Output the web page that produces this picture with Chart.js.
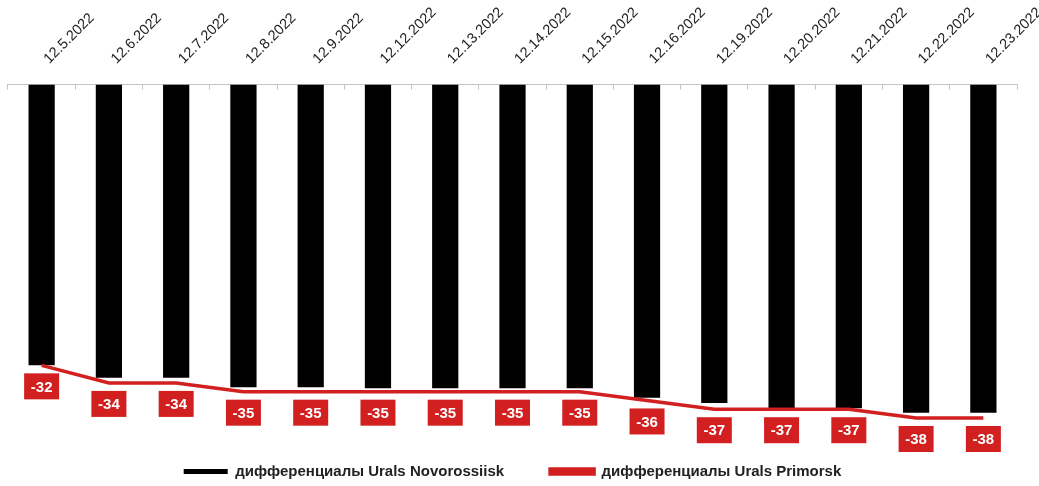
<!DOCTYPE html>
<html>
<head>
<meta charset="utf-8">
<title>Urals differentials</title>
<script src="https://cdn.jsdelivr.net/npm/chart.js@4.4.1/dist/chart.umd.min.js"></script>
<style>
  html, body { margin: 0; padding: 0; background: #fff; }
  #wrap { width: 1039px; height: 486px; position: relative; }
</style>
</head>
<body>
<div id="wrap"><canvas id="chart"></canvas></div>
<script>
// Trading dates (month.day.year)
const dates = ['12.5.2022', '12.6.2022', '12.7.2022', '12.8.2022', '12.9.2022',
  '12.12.2022', '12.13.2022', '12.14.2022', '12.15.2022', '12.16.2022',
  '12.19.2022', '12.20.2022', '12.21.2022', '12.22.2022', '12.23.2022'];

// Discount to Brent, USD/bbl
const novorossiisk = [-32, -33.4, -33.4, -34.5, -34.5, -34.6, -34.6, -34.6, -34.6,
  -35.7, -36.3, -36.9, -36.9, -37.4, -37.4];
const primorsk = [-32, -34, -34, -35, -35, -35, -35, -35, -35, -36, -37, -37, -37, -38, -38];

const seriesNames = ['дифференциалы Urals Novorossiisk', 'дифференциалы Urals Primorsk'];

const FONT = "'Liberation Sans', Arial, sans-serif";
const RED = '#d21f1f';

// Red value boxes under each point of the Primorsk line
const valueBoxes = {
  id: 'valueBoxes',
  afterDatasetsDraw(chart) {
    const ctx = chart.ctx;
    const meta = chart.getDatasetMeta(1);
    const values = chart.data.datasets[1].data;
    ctx.save();
    ctx.font = "bold 15px " + FONT;
    ctx.textAlign = 'center';
    ctx.textBaseline = 'middle';
    meta.data.forEach((pt, i) => {
      const w = 35, h = 26;
      const cx = pt.x, cy = pt.y + 21;
      ctx.fillStyle = RED;
      ctx.fillRect(cx - w / 2, cy - h / 2, w, h);
      ctx.fillStyle = '#fff';
      ctx.fillText(String(values[i]), cx, cy + 1);
    });
    ctx.restore();
  }
};

new Chart(document.getElementById('chart'), {
  type: 'bar',
  data: {
    labels: dates,
    datasets: [
      {
        type: 'bar',
        label: seriesNames[0],
        data: novorossiisk,
        backgroundColor: '#000',
        borderWidth: 0,
        barPercentage: 0.78,
        categoryPercentage: 0.5,
        order: 1
      },
      {
        type: 'line',
        label: seriesNames[1],
        data: primorsk,
        borderColor: RED,
        backgroundColor: RED,
        borderWidth: 3.5,
        pointRadius: 0,
        tension: 0,
        fill: false,
        clip: false,
        order: 0
      }
    ]
  },
  options: {
    responsive: true,
    maintainAspectRatio: false,
    animation: false,
    layout: { padding: { left: 8, right: 22, top: -18, bottom: -3 } },
    plugins: {
      tooltip: { enabled: false },
      legend: {
        position: 'bottom',
        labels: {
          font: { family: FONT, size: 15, weight: 'bold' },
          color: '#222',
          boxWidth: 44,
          boxHeight: 5,
          padding: 46,
          sort: (a, b) => a.datasetIndex - b.datasetIndex
        }
      }
    },
    scales: {
      x: {
        position: 'top',
        // rotated date labels may overhang the right edge of the plot
        afterFit: (scale) => { scale.paddingRight = 22; },
        grid: {
          drawOnChartArea: false,
          drawTicks: true,
          tickLength: -5,
          color: '#c4c4c4'
        },
        border: { color: '#c4c4c4', width: 1 },
        ticks: {
          minRotation: 45,
          maxRotation: 45,
          padding: 22,
          labelOffset: 17,
          color: '#222',
          font: { family: FONT, size: 14.5 }
        }
      },
      y: {
        display: false,
        min: -38,
        max: 0
      }
    }
  },
  plugins: [valueBoxes]
});
</script>
</body>
</html>
